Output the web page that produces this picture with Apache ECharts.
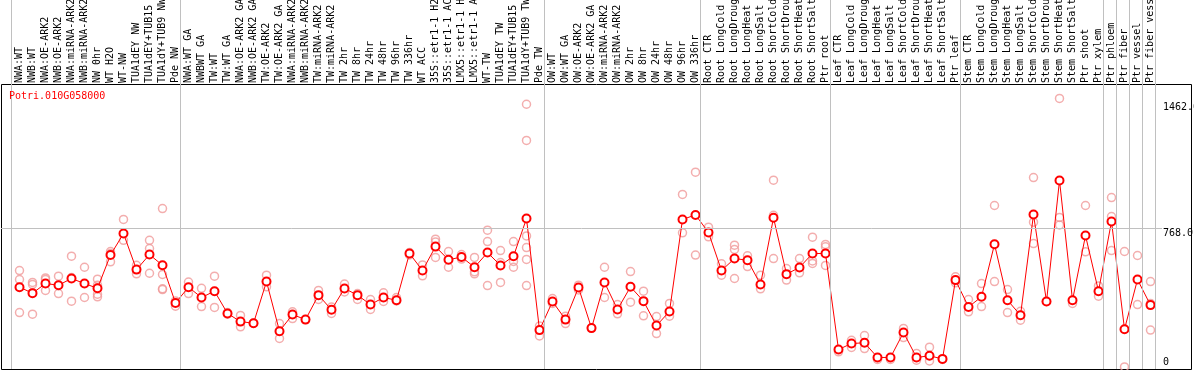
<!DOCTYPE html>
<html><head><meta charset="utf-8">
<script src="https://cdn.jsdelivr.net/npm/echarts@6/dist/echarts.min.js"></script>
<style>html,body{margin:0;padding:0;background:#fff}#c{width:1194px;height:370px}</style>
</head><body><div id="c"></div>
<script>
const GENE = 'Potri.010G058000';

const CATEGORIES = [
  'NWA:WT','NWB:WT','NWA:OE-ARK2','NWB:OE-ARK2','NWA:miRNA-ARK2','NWB:miRNA-ARK2','NW 0hr','WT H2O','WT-NW','TUA1dEY NW','TUA1dEY+TUB15','TUA1dY+TUB9 NW','Pde NW',
  'NWA:WT GA','NWBWT GA','TW:WT','TW:WT GA','NWA:OE-ARK2 GA','NWB:OE-ARK2 GA','TW:OE-ARK2','TW:OE-ARK2 GA','NWA:miRNA-ARK2','NWB:miRNA-ARK2','TW:miRNA-ARK2','TW:miRNA-ARK2','TW 2hr','TW 8hr','TW 24hr','TW 48hr','TW 96hr','TW 336hr','WT ACC','35S::etr1-1 H2O','35S::etr1-1 ACC','LMX5::etr1-1 H2O','LMX5::etr1-1 ACC','WT-TW','TUA1dEY TW','TUA1dEY+TUB15','TUA1dY+TUB9 TW','Pde TW',
  'OW:WT','OW:WT GA','OW:OE-ARK2','OW:OE-ARK2 GA','OW:miRNA-ARK2','OW:miRNA-ARK2','OW 2hr','OW 8hr','OW 24hr','OW 48hr','OW 96hr','OW 336hr',
  'Root CTR','Root LongCold','Root LongDrought','Root LongHeat','Root LongSalt','Root ShortCold','Root ShortDrought','Root ShortHeat','Root ShortSalt','Ptr root',
  'Leaf CTR','Leaf LongCold','Leaf LongDrought','Leaf LongHeat','Leaf LongSalt','Leaf ShortCold','Leaf ShortDrought','Leaf ShortHeat','Leaf ShortSalt','Ptr leaf',
  'Stem CTR','Stem LongCold','Stem LongDrought','Stem LongHeat','Stem LongSalt','Stem ShortCold','Stem ShortDrought','Stem ShortHeat','Stem ShortSalt','Ptr shoot','Ptr xylem',
  'Ptr phloem','Ptr fiber','Ptr vessel','Ptr fiber vessel'
];

const MEANS = [
  444,411,464,455,492,464,438,622,740,541,624,565,357,
  444,387,422,299,254,245,475,201,293,265,400,319,437,400,348,387,372,630,536,668,595,611,554,635,564,615,823,207,
  365,265,442,218,470,321,446,367,232,310,818,843,
  746,536,602,593,459,827,516,553,630,630,
  100,133,137,56,56,194,56,65,48,483,
  335,391,681,372,289,845,365,1033,372,729,422,
  807,212,486,345
];

const REPLICATES = [
  [536,486,304],[470,459,295],[495,486,426],[505,409],[615,367,497],[554,387],[488,455,405,391],[641,584,630],[818,703],[565,518],[703,657,521],[878,514,435,431],[368,339],
  [472,409],[438,337],[505,332],[304,295],[288,225],[245,245],[510,446],[243,161],[308,271],[265],[426,376],[334,299],[461,418],[409,376],[376,321],[413,365],[387,368],[635,622],[567,507],[709,694,608],[641,554],[624,599],[608,529,518],[759,696,453],[646,580,470],[696,586,554],[1454,1254,727,663,597,453],[229,175],
  [381,354],[284,243],[455,429],[218],[554,387],[348,297],[530,361],[422,286],[282,188],[354,284],[956,744],[1079,621],
  [775,722],[573,510],[676,652,492],[617,558],[510,435],[1035,841,602],[547,483],[602,523],[720,589,575],[680,667,564],
  [87],[151,111],[177,105],[45],[45],[216,166],[78,41],[113,37],[45],[501,468],
  [376,308],[464,337],[895,475],[431,304],[311,262],[1049,803,685],[365],[1486,829,788],[354],[895,639],[451,394],
  [939,834,646],[641,4],[619,348],[475,354,207]
];

// first category index of every panel (last entry = end)
const GROUP_STARTS = [0,13,41,53,63,73,84,85,86,87,88];
const Y_TICKS = [0, 768.0, 1462.6];
const GRID_Y = 768;

const FONT = 'DejaVu Sans Mono';
const STEP = 13;            // px per category
const PXU = 0.18112;        // px per expression unit
const X_MIN = -18.5 / STEP, X_MAX = 1172.5 / STEP;
const Y_MIN = -1.4 / PXU, Y_MAX = 367.6 / PXU;
const LINE_OFF = 8 / STEP;

const chart = echarts.init(document.getElementById('c'), null, {renderer: 'canvas'});

const repData = [];
REPLICATES.forEach((arr, i) => arr.forEach(v => repData.push([i, v])));
const meanData = MEANS.map((v, i) => [i, v]);

const vLines = GROUP_STARTS.map(k => ({xAxis: k - LINE_OFF}));
const hLine = [{coord: [X_MIN, GRID_Y]}, {coord: [(1162 - 19.5) / STEP, GRID_Y]}];

const yLabelBase = {inside: true, margin: 29, align: 'left', fontFamily: FONT, fontSize: 10, color: '#000'};

chart.setOption({
  animation: false,
  backgroundColor: '#fff',
  title: {text: GENE, left: 9, top: 91, padding: 0,
    textStyle: {color: '#ff0000', fontFamily: FONT, fontSize: 10, fontWeight: 'normal'}},
  grid: [
    {left: 1, top: 0, width: 1191, height: 369, containLabel: false, outerBoundsMode: 'none'},
    {left: 1.5, top: 84.5, width: 1190, height: 285, show: true, borderColor: '#000', borderWidth: 1,
      backgroundColor: 'transparent', containLabel: false, outerBoundsMode: 'none'}
  ],
  xAxis: [
    {type: 'value', gridIndex: 0, min: X_MIN, max: X_MAX, position: 'top', offset: -84,
      axisLine: {show: false}, axisTick: {show: false}, splitLine: {show: false},
      axisLabel: {customValues: CATEGORIES.map((_, i) => i),
        formatter: v => CATEGORIES[Math.round(v)] || '',
        rotate: 90, margin: 1, fontFamily: FONT, fontSize: 10, color: '#000', hideOverlap: false}},
    {type: 'value', gridIndex: 1, show: false}
  ],
  yAxis: [
    {type: 'value', gridIndex: 0, min: Y_MIN, max: Y_MAX, position: 'right',
      axisLine: {show: false}, axisTick: {show: false}, splitLine: {show: false},
      axisLabel: Object.assign({}, yLabelBase, {customValues: Y_TICKS.filter(v => v > 0),
        verticalAlign: 'top', formatter: v => v.toFixed(1)})},
    {type: 'value', gridIndex: 0, min: Y_MIN, max: Y_MAX, position: 'right',
      axisLine: {show: false}, axisTick: {show: false}, splitLine: {show: false},
      axisLabel: Object.assign({}, yLabelBase, {customValues: Y_TICKS.filter(v => v === 0),
        verticalAlign: 'bottom', formatter: v => String(v)})},
    {type: 'value', gridIndex: 1, show: false}
  ],
  series: [
    {type: 'line', xAxisIndex: 0, yAxisIndex: 0, data: [], z: 1, silent: true,
      markLine: {silent: true, symbol: ['none', 'none'], label: {show: false}, animation: false,
        lineStyle: {color: '#c0c0c0', width: 1, type: 'solid'},
        emphasis: {disabled: true},
        data: vLines.concat([hLine])}},
    {type: 'scatter', xAxisIndex: 0, yAxisIndex: 0, data: repData, z: 2, silent: true,
      symbol: 'circle', symbolSize: 8,
      itemStyle: {color: 'rgba(0,0,0,0)', borderColor: '#f09a9a', borderWidth: 1.5},
      emphasis: {disabled: true}},
    {type: 'line', xAxisIndex: 0, yAxisIndex: 0, data: meanData, z: 3, silent: true,
      symbol: 'circle', symbolSize: 8, showSymbol: true,
      itemStyle: {color: '#ffffff', borderColor: '#ff0000', borderWidth: 2},
      lineStyle: {color: '#ff0000', width: 1},
      emphasis: {disabled: true}}
  ]
});
</script></body></html>
